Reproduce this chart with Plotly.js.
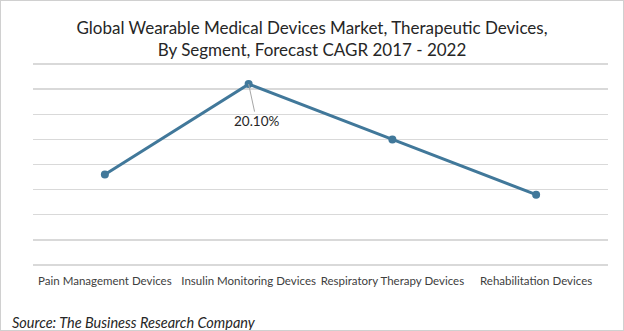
<!DOCTYPE html>
<html>
<head>
<meta charset="utf-8">
<script src="https://cdn.plot.ly/plotly-3.0.1.min.js"></script>
<style>
html,body{margin:0;padding:0;background:#fff;}
#frame{width:624px;height:331px;box-sizing:border-box;border:1px solid #d0d0d0;overflow:hidden;}
#chart{width:622px;height:329px;}
</style>
</head>
<body>
<div id="frame"><div id="chart"></div></div>
<script>
const categories = ["Pain Management Devices", "Insulin Monitoring Devices", "Respiratory Therapy Devices", "Rehabilitation Devices"];
const cagrValues = [18.3, 20.1, 19.0, 17.9];
const labelledIndex = 1;
const labelText = "20.10%";
const titleText = "Global Wearable Medical Devices Market, Therapeutic Devices,<br>By Segment, Forecast CAGR 2017 - 2022";
const sourceText = "Source: The Business Research Company";

const FONT = "Lato, 'Open Sans', sans-serif";

const trace = {
  x: categories,
  y: cagrValues,
  type: "scatter",
  mode: "lines+markers",
  line: {color: "#41789a", width: 3},
  marker: {color: "#41789a", size: 8},
  hoverinfo: "skip"
};

const layout = {
  width: 622,
  height: 329,
  margin: {l: 32, r: 15, t: 58, b: 60},
  paper_bgcolor: "#ffffff",
  plot_bgcolor: "#ffffff",
  showlegend: false,
  title: {
    text: titleText,
    font: {family: FONT, size: 17, color: "#262626"},
    x: 0.5, xanchor: "center",
    y: 0.9, yanchor: "middle", yref: "container",
    automargin: false
  },
  xaxis: {
    type: "category",
    range: [-0.5, 3.5],
    showgrid: false,
    showline: false,
    ticks: "",
    tickangle: 0,
    ticklabelstandoff: 2,
    tickfont: {family: FONT, size: 11.5, color: "#404040"},
    fixedrange: true,
    automargin: false
  },
  yaxis: {
    range: [16.4, 20.6],
    dtick: 0.5,
    tick0: 16.5,
    showticklabels: false,
    showgrid: true,
    gridcolor: "#d9d9d9",
    gridwidth: 1.5,
    zeroline: false,
    showline: false,
    ticks: "",
    fixedrange: true,
    automargin: false
  },
  annotations: [
    {
      x: categories[labelledIndex],
      y: cagrValues[labelledIndex],
      xref: "x", yref: "y",
      text: labelText,
      showarrow: true,
      arrowhead: 0,
      arrowwidth: 1,
      arrowcolor: "#a6a6a6",
      ax: 8, ay: 37,
      font: {family: FONT, size: 13.5, color: "#262626"}
    },
    {
      x: 0, y: 0,
      xref: "paper", yref: "paper",
      xshift: -23, yshift: -41.5,
      xanchor: "left", yanchor: "top",
      text: "<i>" + sourceText + "</i>",
      showarrow: false,
      font: {family: FONT, size: 14.5, color: "#262626"}
    }
  ]
};

Plotly.newPlot("chart", [trace], layout, {displayModeBar: false, staticPlot: true});
</script>
</body>
</html>
